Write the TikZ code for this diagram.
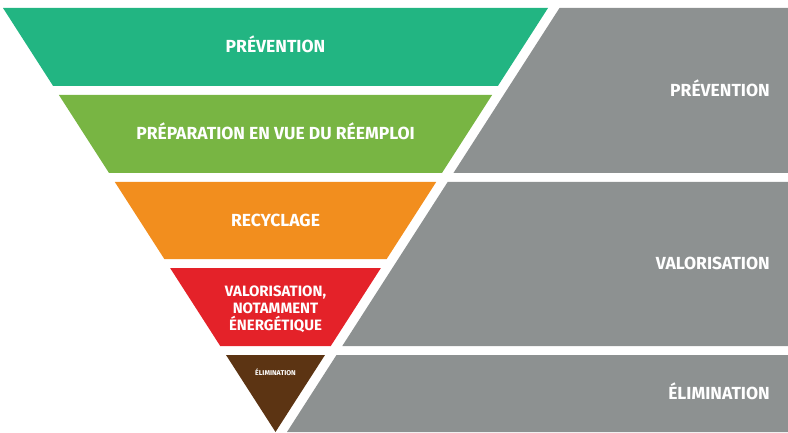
\documentclass[tikz,border=0pt]{standalone}
\usepackage{fontspec}
\setmainfont{Fira Sans}
\definecolor{cgreen}{HTML}{22B582}
\definecolor{clime}{HTML}{78B543}
\definecolor{corange}{HTML}{F28E1E}
\definecolor{cred}{HTML}{E42229}
\definecolor{cbrown}{HTML}{5C3413}
\definecolor{cgray}{HTML}{8D9191}
\tikzset{
  lbl/.style={text=white,font=\bfseries\fontsize{17.5}{20}\selectfont,align=center,inner sep=0pt,anchor=base},
  glbl/.style={text=white,font=\bfseries\fontsize{17.5}{20}\selectfont,anchor=base east,inner sep=0pt},
}
\begin{document}
\begin{tikzpicture}[x=1pt,y=-1pt]
\useasboundingbox (0,0) rectangle (788,433);
% funnel edges: center 275.5, half width 272.5 at y=8, apex y=432
\def\L#1{{275.5-0.64269*(432-#1)}}
\def\R#1{{275.5+0.64269*(432-#1)}}
\def\G#1{{287+0.64269*(432-#1)}}
\fill[cgreen] (\L{8},8) -- (\R{8},8) -- (\R{86},86) -- (\L{86},86) -- cycle;
\fill[clime] (\L{95},95) -- (\R{95},95) -- (\R{173},173) -- (\L{173},173) -- cycle;
\fill[corange] (\L{182},182) -- (\R{182},182) -- (\R{259},259) -- (\L{259},259) -- cycle;
\fill[cred] (\L{268},268) -- (\R{268},268) -- (\R{346},346) -- (\L{346},346) -- cycle;
\fill[cbrown] (\L{355},355) -- (\R{355},355) -- (275.5,432) -- cycle;
\fill[cgray] (\G{8},8) -- (788,8) -- (788,173) -- (\G{173},173) -- cycle;
\fill[cgray] (\G{182},182) -- (788,182) -- (788,346) -- (\G{346},346) -- cycle;
\fill[cgray] (\G{355},355) -- (788,355) -- (788,432) -- (\G{432},432) -- cycle;
\node[lbl] (t1) at (275.5,53) {PRÉVENTION};
\node[lbl] (t2) at (275.5,140) {PRÉPARATION EN VUE DU RÉEMPLOI};
\node[lbl] (t3) at (275.5,226.5) {RECYCLAGE};
\node[lbl,anchor=center,font=\bfseries\fontsize{15}{17}\selectfont] (t4) at (275.5,309) {VALORISATION,\\NOTAMMENT\\ÉNERGÉTIQUE};
\node[lbl,font=\bfseries\fontsize{7}{8}\selectfont] (t5) at (275.5,375) {ÉLIMINATION};
\node[glbl] (g1) at (770,96.5) {PRÉVENTION};
\node[glbl] (g2) at (770,269.5) {VALORISATION};
\node[glbl] (g3) at (770,399.5) {ÉLIMINATION};
\end{tikzpicture}
\end{document}
